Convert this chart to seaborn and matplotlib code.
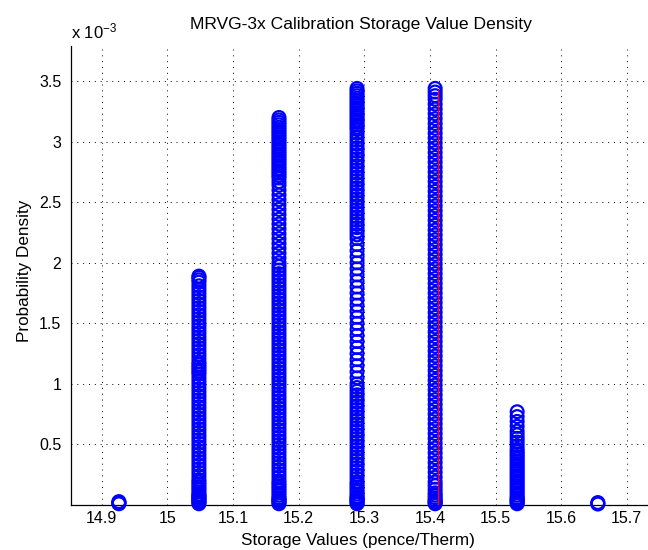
import numpy as np
import pandas as pd
import matplotlib
matplotlib.use("Agg")
import matplotlib.pyplot as plt
import seaborn as sns

# ---- data (density values in units of 1e-3) ----
col_x = [14.926, 15.048, 15.170, 15.289, 15.408, 15.533, 15.656]

dens_1 = [0.010, 0.016, 0.022, 0.028]
dens_2 = [1.89, 1.88, 1.86, 1.84, 1.81, 1.78, 1.75, 1.72, 1.69, 1.66, 1.63, 1.60,
          1.57, 1.54, 1.51, 1.48, 1.45, 1.42, 1.39, 1.36, 1.33, 1.30, 1.27, 1.24,
          1.21, 1.18, 1.16, 1.14, 1.12, 1.10, 1.08, 1.05, 1.02, 0.99, 0.96, 0.93,
          0.90, 0.87, 0.84, 0.81, 0.78, 0.75, 0.72, 0.69, 0.66, 0.63, 0.60, 0.57,
          0.54, 0.51, 0.48, 0.45, 0.42, 0.39, 0.36, 0.33, 0.30, 0.27, 0.24, 0.21,
          0.19, 0.17, 0.15, 0.13, 0.11, 0.09, 0.08, 0.07, 0.06, 0.05, 0.04, 0.03,
          0.02, 0.01]
dens_3 = [3.20, 3.18, 3.16, 3.14, 3.12, 3.10, 3.08, 3.06, 3.04, 3.02, 3.00, 2.98,
          2.96, 2.94, 2.92, 2.90, 2.88, 2.86, 2.84, 2.82, 2.80, 2.78, 2.76, 2.74,
          2.72, 2.70, 2.67, 2.64, 2.60, 2.56, 2.52, 2.48, 2.44, 2.40, 2.36, 2.32,
          2.28, 2.24, 2.20, 2.16, 2.12, 2.08, 2.04, 2.00, 1.97, 1.94, 1.91, 1.88,
          1.85, 1.82, 1.79, 1.76, 1.73, 1.70, 1.67, 1.64, 1.61, 1.58, 1.55, 1.52,
          1.49, 1.46, 1.43, 1.40, 1.37, 1.34, 1.31, 1.28, 1.25, 1.22, 1.19, 1.16,
          1.13, 1.10, 1.07, 1.04, 1.01, 0.98, 0.95, 0.92, 0.89, 0.86, 0.83, 0.80,
          0.77, 0.74, 0.71, 0.68, 0.65, 0.62, 0.59, 0.56, 0.53, 0.50, 0.47, 0.44,
          0.41, 0.38, 0.35, 0.32, 0.29, 0.26, 0.23, 0.20, 0.18, 0.16, 0.14, 0.12,
          0.10, 0.08, 0.06, 0.05, 0.04, 0.03, 0.02, 0.01]
dens_4 = [3.44, 3.42, 3.40, 3.38, 3.36, 3.34, 3.32, 3.30, 3.28, 3.26, 3.24, 3.22,
          3.20, 3.18, 3.16, 3.14, 3.12, 3.10, 3.07, 3.04, 3.01, 2.98, 2.95, 2.92,
          2.89, 2.86, 2.83, 2.80, 2.77, 2.74, 2.71, 2.68, 2.65, 2.62, 2.59, 2.56,
          2.53, 2.50, 2.47, 2.44, 2.41, 2.38, 2.35, 2.32, 2.29, 2.26, 2.23, 2.20,
          2.15, 2.10, 2.05, 2.00, 1.95, 1.90, 1.85, 1.80, 1.75, 1.70, 1.65, 1.60,
          1.55, 1.50, 1.45, 1.40, 1.35, 1.30, 1.25, 1.20, 1.15, 1.10, 1.05, 1.00,
          0.97, 0.94, 0.91, 0.88, 0.85, 0.82, 0.79, 0.76, 0.73, 0.70, 0.67, 0.64,
          0.61, 0.58, 0.55, 0.52, 0.49, 0.46, 0.43, 0.40, 0.37, 0.34, 0.31, 0.28,
          0.25, 0.22, 0.19, 0.17, 0.15, 0.13, 0.11, 0.09, 0.07, 0.06, 0.05, 0.04,
          0.03, 0.02, 0.01]
dens_5 = [3.44, 3.41, 3.38, 3.35, 3.31, 3.27, 3.23, 3.19, 3.15, 3.11, 3.07, 3.03,
          2.99, 2.95, 2.91, 2.87, 2.83, 2.79, 2.75, 2.71, 2.67, 2.63, 2.59, 2.55,
          2.51, 2.47, 2.43, 2.39, 2.35, 2.31, 2.27, 2.23, 2.19, 2.15, 2.11, 2.07,
          2.03, 1.99, 1.95, 1.91, 1.87, 1.83, 1.79, 1.75, 1.71, 1.67, 1.63, 1.59,
          1.55, 1.51, 1.47, 1.43, 1.39, 1.35, 1.31, 1.27, 1.23, 1.19, 1.15, 1.11,
          1.07, 1.03, 0.99, 0.95, 0.91, 0.87, 0.83, 0.79, 0.75, 0.71, 0.67, 0.63,
          0.59, 0.55, 0.51, 0.47, 0.43, 0.39, 0.35, 0.31, 0.27, 0.23, 0.19, 0.16,
          0.13, 0.10, 0.08, 0.06, 0.04, 0.03, 0.02, 0.01]
dens_6 = [0.77, 0.73, 0.69, 0.65, 0.61, 0.58, 0.55, 0.52, 0.49, 0.46, 0.44, 0.42,
          0.40, 0.38, 0.36, 0.34, 0.32, 0.30, 0.28, 0.26, 0.24, 0.22, 0.20, 0.18,
          0.16, 0.14, 0.12, 0.10, 0.08, 0.06, 0.05, 0.04, 0.03, 0.02, 0.01]
dens_7 = [0.008, 0.014, 0.020]

mean_x = [15.412, 15.412]
mean_y = [0.0, 3.43]

title = "MRVG-3x Calibration Storage Value Density"
xlabel = "Storage Values (pence/Therm)"
ylabel = "Probability Density"
xticks = [14.9, 15.0, 15.1, 15.2, 15.3, 15.4, 15.5, 15.6, 15.7]
xticklabels = ["14.9", "15", "15.1", "15.2", "15.3", "15.4", "15.5", "15.6", "15.7"]
yticks = [0.5, 1.0, 1.5, 2.0, 2.5, 3.0, 3.5]
yticklabels = ["0.5", "1", "1.5", "2", "2.5", "3", "3.5"]

# ---- build table ----
cols = [dens_1, dens_2, dens_3, dens_4, dens_5, dens_6, dens_7]
rows = []
for cx, dens in zip(col_x, cols):
    for d in dens:
        rows.append((cx, d))
df = pd.DataFrame(rows, columns=["storage", "density"])

sns.set_style("white")
plt.rcParams["font.family"] = ["Liberation Sans", "DejaVu Sans"]
plt.rcParams["mathtext.fontset"] = "custom"
plt.rcParams["mathtext.rm"] = "Liberation Sans"
plt.rcParams["mathtext.it"] = "Liberation Sans"
plt.rcParams["text.color"] = "black"
plt.rcParams["axes.labelcolor"] = "black"
plt.rcParams["xtick.color"] = "black"
plt.rcParams["ytick.color"] = "black"

fig = plt.figure(figsize=(6.48, 5.50), dpi=100)
fig.patch.set_facecolor("white")
L, R, B, T = 71, 651, 505, 46
ax = fig.add_axes([L / 648, 1 - B / 550, (R - L) / 648, (B - T) / 550])
ax.set_facecolor("white")

sns.scatterplot(data=df, x="storage", y="density", ax=ax, marker="o", s=85,
                color="blue", linewidth=1.6, legend=False, clip_on=False, zorder=3)
coll = ax.collections[-1]
coll.set_facecolor("none")
coll.set_edgecolor("blue")

sns.lineplot(x=mean_x, y=mean_y, ax=ax, estimator=None, sort=False,
             color="red", linewidth=1.0, zorder=4)

ax.set_xlim(14.853, 15.737)
ax.set_ylim(0, 3.79)
ax.set_xticks(xticks)
ax.set_xticklabels(xticklabels)
ax.set_yticks(yticks)
ax.set_yticklabels(yticklabels)
ax.tick_params(direction="in", length=4, width=0.8, labelsize=11.5,
               colors="black", labelcolor="black")
ax.tick_params(axis="y", pad=7)
ax.tick_params(axis="x", pad=4)

ax.grid(True, color="black", linestyle=(0, (1, 5)), linewidth=0.7)
ax.set_axisbelow(True)
for s in ["top", "right"]:
    ax.spines[s].set_visible(False)
for s in ["left", "bottom"]:
    ax.spines[s].set_color("black")
    ax.spines[s].set_linewidth(0.9)

ax.set_xlabel(xlabel, fontsize=12.3, color="black")
ax.set_ylabel(ylabel, fontsize=12.3, color="black")
ax.xaxis.set_label_coords(0.495, -0.060)
ax.yaxis.set_label_coords(-0.068, 0.51)

fig.text(361 / 648, 1 - 29 / 550, title, ha="center", va="baseline",
         fontsize=12.6, color="black")
fig.text(71 / 648, 1 - 38 / 550, r"x 10$^{-3}$", ha="left", va="baseline",
         fontsize=12, color="black")

fig.savefig("out.png", dpi=100, facecolor="white")
